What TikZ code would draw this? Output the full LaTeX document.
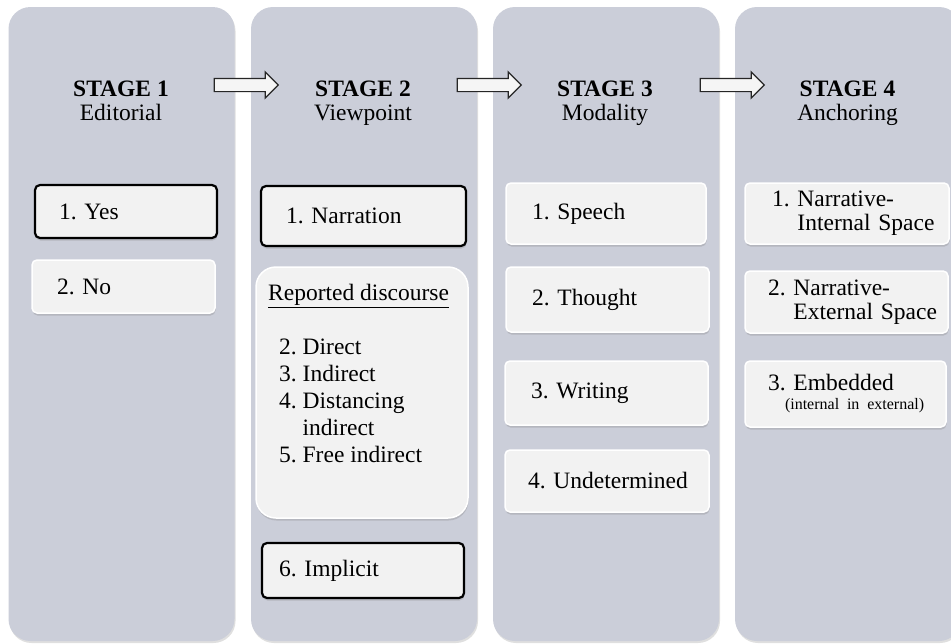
\documentclass[tikz,border=0pt]{standalone}
\usepackage{fontspec}
\setmainfont{Liberation Serif}
\usepackage{xcolor}
\usetikzlibrary{shapes.arrows,shadows,positioning}

\definecolor{stagegray}{RGB}{203,206,217}
\definecolor{itemfill}{RGB}{242,242,242}

\begin{document}
\begin{tikzpicture}[x=1pt, y=-1pt,
        font=\fontsize{23.5}{24}\selectfont,
        stagecol/.style={rectangle, fill=stagegray, rounded corners=22pt, minimum width=226pt, minimum height=634pt, drop shadow={shadow xshift=1pt, shadow yshift=-2pt, opacity=0.25}},
        boldbox/.style={rectangle, draw=black, line width=2.2pt, fill=itemfill, rounded corners=5pt, align=left, inner ysep=0pt, drop shadow={shadow xshift=0.5pt, shadow yshift=-2.5pt, opacity=0.3}},
        plainbox/.style={rectangle, draw=white, line width=1.5pt, fill=itemfill, rounded corners=5pt, align=left, inner ysep=0pt, drop shadow={shadow xshift=0.5pt, shadow yshift=-2.5pt, opacity=0.3}},
        discbox/.style={rectangle, draw=white, line width=1.5pt, fill=itemfill, rounded corners=20pt, drop shadow={shadow xshift=0.5pt, shadow yshift=-2.5pt, opacity=0.3}},
        stagetitle/.style={align=center, inner sep=0pt, anchor=north},
        blockarrow/.style={single arrow, draw=black!85, line width=1.2pt, fill=white!96!black, inner xsep=0pt, inner ysep=6pt, single arrow head extend=6.5pt, minimum height=64pt, minimum width=0pt}
    ]

    \fill[white] (0,0) rectangle (951,643);
    \useasboundingbox (0,0) rectangle (951,643);

    % Stage columns
    \node[stagecol] (col1) at (121.5,324) {};
    \node[stagecol] (col2) at (364,324) {};
    \node[stagecol] (col3) at (606,324) {};
    \node[stagecol] (col4) at (848,324) {};

    % Stage titles
    \node[stagetitle] (stg1) at (121,81) {\textbf{STAGE 1}\\Editorial};
    \node[stagetitle] (stg2) at (363,81) {\textbf{STAGE 2}\\Viewpoint};
    \node[stagetitle] (stg3) at (605,81) {\textbf{STAGE 3}\\Modality};
    \node[stagetitle] (stg4) at (847.5,81) {\textbf{STAGE 4}\\Anchoring};

    % Arrows between stages
    \node[blockarrow] (arr1) at (243,85) {};
    \node[blockarrow] (arr2) at (486,85) {};
    \node[blockarrow] (arr3) at (729,85) {};

    % Stage 1: Editorial
    \node[boldbox, text width=134pt, inner xsep=24pt, minimum height=53pt] (yes) at (126,211.5) {1.~Yes};
    \node[plainbox, text width=133pt, inner xsep=25pt, minimum height=53pt] (no) at (123.5,286.5) {2.~No};

    % Stage 2: Viewpoint
    \node[boldbox, text width=155pt, inner xsep=25pt, minimum height=60pt] (narr) at (363.5,216) {1.~Narration};
    \node[discbox, minimum width=212pt, minimum height=251pt] (disc) at (362,392.5) {};
    \node[anchor=north west, inner sep=0pt, align=left, font=\fontsize{23.5}{27}\selectfont] (disclist) at (268,284) {
        \underline{Reported discourse}\\[27pt]
        \hspace*{11pt}2.~Direct\\
        \hspace*{11pt}3.~Indirect\\
        \hspace*{11pt}4.~Distancing\\
        \hspace*{11pt}\hphantom{4.~}indirect\\
        \hspace*{11pt}5.~Free~indirect
    };
    \node[boldbox, text width=168pt, inner xsep=17pt, minimum height=55pt] (impl) at (363,570.5) {6.~Implicit};

    % Stage 3: Modality
    \node[plainbox, text width=148pt, inner xsep=26pt, minimum height=61pt] (speech) at (606,213.5) {1.~Speech};
    \node[plainbox, text width=151pt, inner xsep=26pt, minimum height=65pt] (thought) at (607.5,299.5) {2.~Thought};
    \node[plainbox, text width=151pt, inner xsep=26pt, minimum height=64pt] (writing) at (606.5,393) {3.~Writing};
    \node[plainbox, text width=158pt, inner xsep=23pt, minimum height=62pt] (undet) at (607,481) {\mbox{4.~Undetermined}};

    % Stage 4: Anchoring
    \node[plainbox, text width=150pt, inner xsep=27pt, minimum height=61pt] (intsp) at (847,213.5) {1.~Narrative-\\\hphantom{1.~}\mbox{Internal Space}};
    \node[plainbox, text width=157pt, inner xsep=23pt, minimum height=62pt] (extsp) at (846.5,302) {2.~Narrative-\\\hphantom{2.~}\mbox{External Space}};
    \node[plainbox, text width=155pt, inner xsep=23pt, minimum height=66pt] (embed) at (845.5,394) {3.~Embedded\\[-5pt]\hspace*{17pt}\mbox{\fontsize{16}{16}\selectfont(internal in external)}};

\end{tikzpicture}
\end{document}
